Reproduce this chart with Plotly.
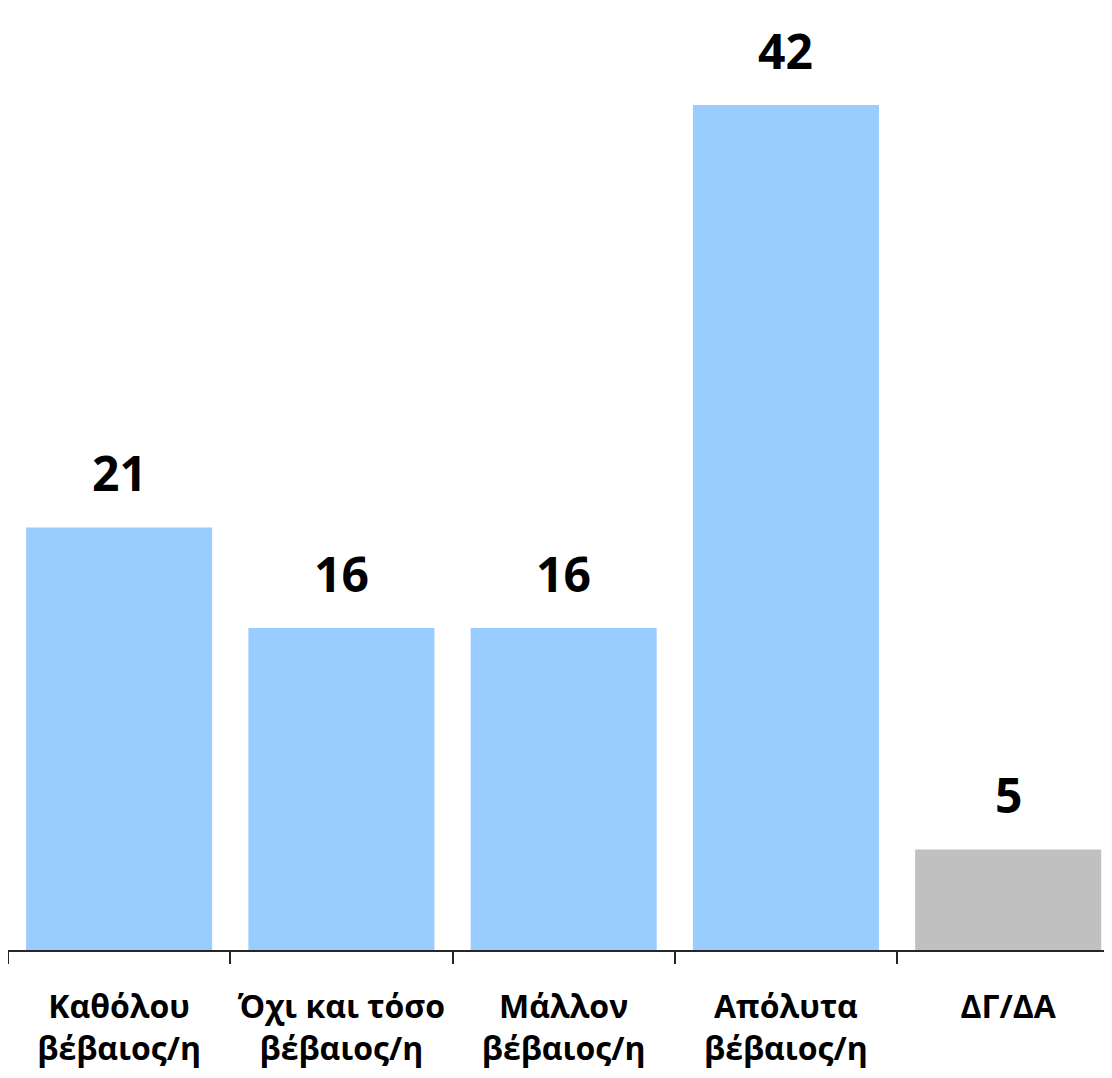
import plotly.graph_objects as go

categories = ["Καθόλου<br>βέβαιος/η", "Όχι και τόσο<br>βέβαιος/η", "Μάλλον<br>βέβαιος/η",
              "Απόλυτα<br>βέβαιος/η", "ΔΓ/ΔΑ"]
values = [21, 16, 16, 42, 5]
colors = ["#99CCFF", "#99CCFF", "#99CCFF", "#99CCFF", "#C0C0C0"]

FONT = "Open Sans"

fig = go.Figure()
fig.add_trace(go.Bar(x=categories, y=values, marker=dict(color=colors, line=dict(width=0)),
                     hoverinfo="skip"))

for c, v in zip(categories, values):
    fig.add_annotation(x=c, y=v, text=f"<b>{v}</b>", showarrow=False, yanchor="bottom",
                       yshift=20, font=dict(family=FONT, size=48, color="black"))

fig.update_layout(
    width=1104, height=1070,
    margin=dict(l=0, r=0, t=0, b=128, pad=0),
    paper_bgcolor="white", plot_bgcolor="white",
    bargap=0.163, showlegend=False,
)
fig.update_xaxes(
    type="category", range=[-0.5, 4.467],
    categoryorder="array", categoryarray=categories,
    tickson="boundaries",
    ticktext=[f"<b>{c}</b>" for c in categories], tickvals=categories,
    showline=True, linecolor="#262626", linewidth=1.5,
    ticks="outside", ticklen=12, tickcolor="#262626", tickwidth=1.5,
    ticklabelstandoff=28,
    tickfont=dict(family=FONT, size=32, color="black"),
    showgrid=False, zeroline=False,
)
fig.update_yaxes(range=[0, 46.82], visible=False, showgrid=False, zeroline=False)

fig.write_html("out.html")
